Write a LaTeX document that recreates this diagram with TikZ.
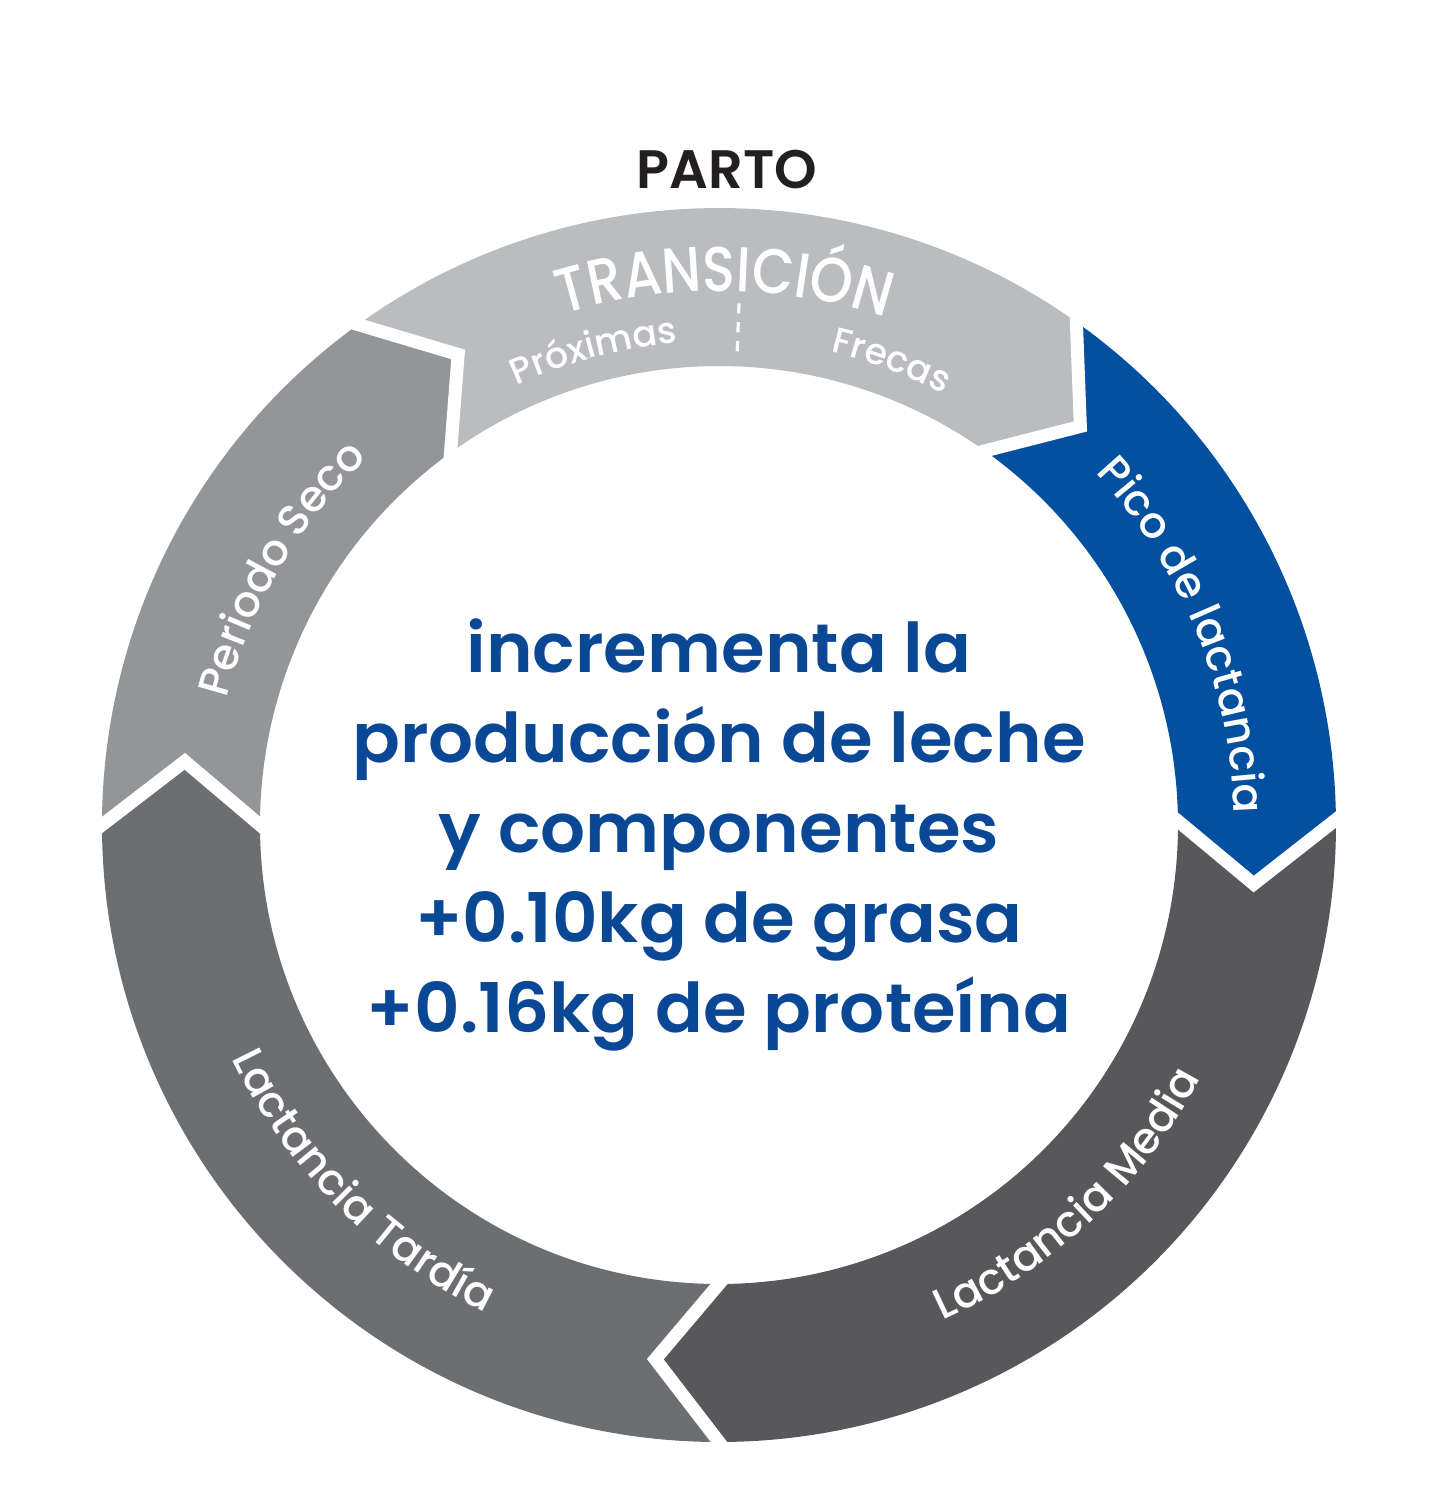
\documentclass[tikz,border=0pt]{standalone}
\usepackage{fontspec}
\setmainfont{Poppins}[UprightFont=* Medium, BoldFont=* SemiBold]
\newfontfamily\narrowfont{Poppins}[UprightFont=* Medium, FakeStretch=0.86]
\newfontfamily\claimfont{Poppins}[UprightFont=* SemiBold, FakeStretch=1.03]
\usetikzlibrary{calc}
\usetikzlibrary{decorations.text}

\definecolor{partoink}{HTML}{231F20}
\definecolor{claimblue}{HTML}{0A4896}
\definecolor{picofill}{HTML}{0450A0}
\definecolor{tranfill}{HTML}{BBBCC0}
\definecolor{secofill}{HTML}{939598}
\definecolor{tardiafill}{HTML}{6D6E71}
\definecolor{mediafill}{HTML}{58585A}

\newcommand{\bandfont}{\fontsize{12.3}{14}\selectfont}
\newcommand{\subfont}{\fontsize{10.3}{12}\selectfont}

\begin{document}
\begin{tikzpicture}[x=0.01cm, y=0.01cm,
    gap/.style={white, line width=3.7pt, line join=miter},
    sep/.style={white, line width=0.9pt, dash pattern=on 2.9pt off 2.5pt},
    bandtext/.style={decorate, decoration={text along path, text align=center,
        text color=white, text={#1}}},
    claim/.style={text=claimblue, align=center, font=\claimfont\fontsize{19.5}{25.6}\selectfont},
    parto/.style={text=partoink, font=\bfseries\fontsize{15.4}{18}\selectfont}]

    \useasboundingbox (-719,-674) rectangle (720,825);

    \def\Ro{617}
    \def\Ri{459}
    \def\Rm{538}
    \def\tip{6.8}

    % ring of five arrows
    \foreach \a/\b/\c in {125.8/54.6/tranfill, 54.6/0.5/picofill, 0.5/-90/mediafill,
                          -90/-180/tardiafill, 180/125.8/secofill} {
        \fill[\c] (\a:\Ro) arc[start angle=\a, end angle=\b, radius=\Ro]
            -- ({\b-\tip}:\Rm) -- (\b:\Ri)
            arc[start angle=\b, end angle=\a, radius=\Ri]
            -- ({\a-\tip}:\Rm) -- cycle;
    }

    % white gaps between the arrows
    \foreach \b in {125.8,54.6,0.5,-90,-180} {
        \coordinate (apex) at ({\b-\tip}:\Rm);
        \draw[gap] ($(apex)!1.6!(\b:\Ro)$) -- (apex) -- ($(apex)!1.6!(\b:\Ri)$);
    }

    \draw[sep] (87.8:474) -- (87.8:522);

    % labels along the ring
    \path[bandtext={|\narrowfont\fontsize{18}{21}\selectfont|TRANSICIÓN}]
        (129.4:534) arc[start angle=129.4, end angle=49.4, radius=534];
    \path[bandtext={|\subfont|Próximas}]
        (134.8:484) arc[start angle=134.8, end angle=74.8, radius=484];
    \path[bandtext={|\subfont|Frecas}]
        (99.6:486) arc[start angle=99.6, end angle=39.6, radius=486];
    \path[bandtext={|\bandfont|Periodo Seco}]
        (189.7:508) arc[start angle=189.7, end angle=109.7, radius=508];
    \path[bandtext={|\bandfont|Pico de lactancia}]
        (62.2:515) arc[start angle=62.2, end angle=-17.8, radius=515];
    \path[bandtext={|\bandfont|Lactancia Media}]
        (-86.7:544) arc[start angle=-86.7, end angle=-6.7, radius=544];
    \path[bandtext={|\bandfont|Lactancia Tardía}]
        (-175:540) arc[start angle=-175, end angle=-95, radius=540];

    \node[parto, anchor=base] (parto) at (8,637) {PARTO};

    \node[claim] (claimtext) at (0,-10) {incrementa la\\producción de leche\\y componentes\\+0.10kg de grasa\\+0.16kg de proteína};

\end{tikzpicture}
\end{document}
